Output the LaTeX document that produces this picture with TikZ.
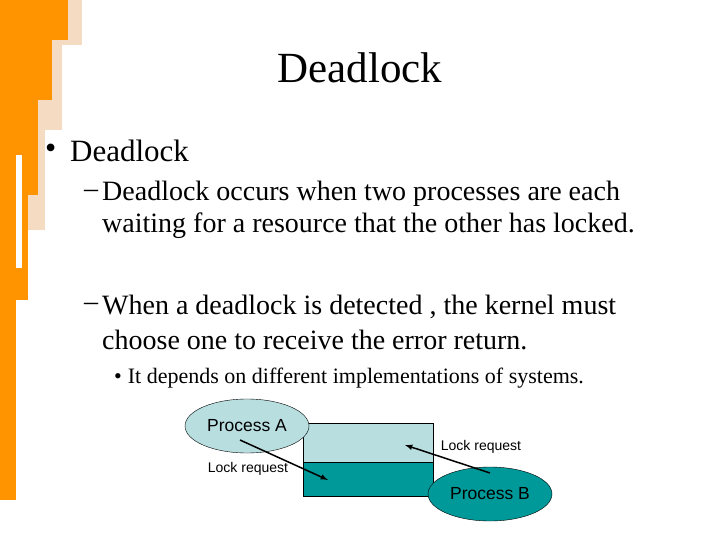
\documentclass[tikz,border=0pt]{standalone}
\usepackage{fontspec}
\usetikzlibrary{shapes.geometric}
\setmainfont{Liberation Serif}
\newfontfamily\arialf{Liberation Sans}
\definecolor{lightc}{HTML}{B8DEE0}
\definecolor{darkc}{HTML}{009999}
\begin{document}
\begin{tikzpicture}[x=1pt,y=-1pt,
  orng/.style={fill=orange!85!yellow, draw=none},
  tan/.style={fill=orange!45!brown!40, draw=none, opacity=0.7},
  proc/.style={ellipse, draw=black, minimum width=124pt, minimum height=54pt, inner sep=1pt, font=\arialf\fontsize{17.5}{19}\selectfont},
  lbl/.style={font=\arialf\fontsize{14}{16}\selectfont},
  body/.style={anchor=west, inner sep=0pt, font=\fontsize{28}{32}\selectfont},
  arr/.style={-latex, line width=1.5pt}]
\useasboundingbox (0,0) rectangle (720,540);
\fill[white] (0,0) rectangle (720,540);
% left decoration
\fill[tan] (0,0) rectangle (82,45);
\fill[tan] (0,45) rectangle (62,130);
\fill[tan] (0,130) rectangle (45,230);
\fill[orng] (0,0) rectangle (68,40);
\fill[orng] (0,40) rectangle (52,100);
\fill[orng] (0,100) rectangle (38,195);
\fill[orng] (0,195) rectangle (28,300);
\fill[orng] (0,300) rectangle (16,500);
\fill[white] (16,155) rectangle (22,268);
% text
\node (title) at (360,68) {\fontsize{43}{46}\selectfont Deadlock};
\node[body, font=\fontsize{32}{36}\selectfont] (b1d) at (45,151) {•};
\node[body, font=\fontsize{31}{36}\selectfont] (b1) at (70,151) {Deadlock};
\node[body] (d1) at (84,194) {–};
\node[body] (l1) at (102,194) {Deadlock occurs when two processes are each};
\node[body] (l2) at (102,226) {waiting for a resource that the other has locked.};
\node[body] (d2) at (84,307) {–};
\node[body] (l3) at (102,307) {When a deadlock is detected , the kernel must};
\node[body] (l4) at (102,340) {choose one to receive the error return.};
\node[body, font=\fontsize{22}{26}\selectfont] (b4) at (114,378) {•\hspace{6pt}It depends on different implementations of systems.};
% diagram
\node[draw=black, fill=lightc, minimum width=130pt, minimum height=39pt, inner sep=0pt, anchor=north west] (top) at (303,423) {};
\node[draw=black, fill=darkc, minimum width=130pt, minimum height=34pt, inner sep=0pt, anchor=north west] (bot) at (303,462) {};
\node[proc, fill=lightc] (pa) at (247,426) {Process A};
\node[proc, fill=darkc] (pb) at (490,494) {Process B};
\coordinate (a1) at (240,440);
\coordinate (a2) at (328,480);
\coordinate (b1s) at (490,473);
\coordinate (b2e) at (405,445);
\draw[arr] (a1) -- (a2);
\draw[arr] (b1s) -- (b2e);
\node[lbl] (la) at (248,469) {Lock request};
\node[lbl] (lb) at (481,447) {Lock request};
\end{tikzpicture}
\end{document}
